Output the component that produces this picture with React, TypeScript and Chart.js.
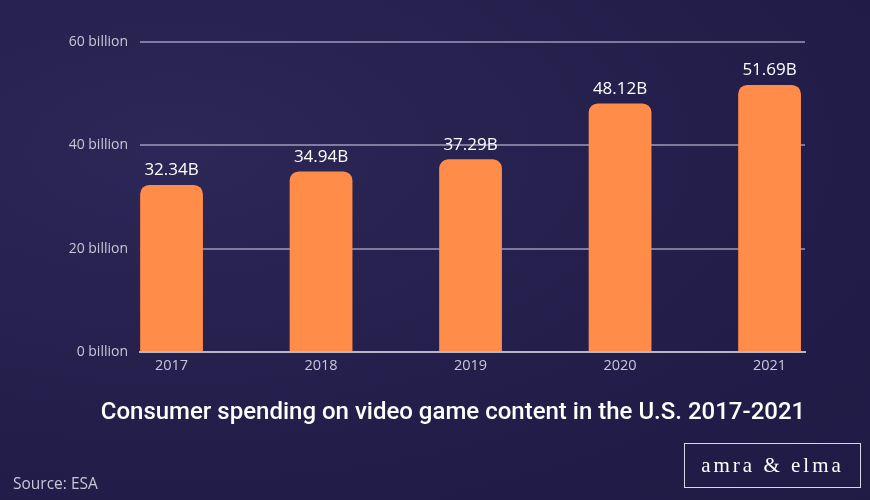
import React, { useEffect, useRef } from "react";
import { Chart, registerables } from "chart.js";

Chart.register(...registerables);

const years = [2017, 2018, 2019, 2020, 2021];
const spending = [32.34, 34.94, 37.29, 48.12, 51.69];
const valueLabels = ["32.34B", "34.94B", "37.29B", "48.12B", "51.69B"];
const yTicks = [0, 20, 40, 60];

const TEXT_GREY = "#c9c6d9";

const valueLabelPlugin = {
  id: "valueLabels",
  afterDatasetsDraw(chart: any) {
    const ctx = chart.ctx;
    const meta = chart.getDatasetMeta(0);
    ctx.save();
    ctx.font = "17px 'Open Sans'";
    ctx.fillStyle = "#ffffff";
    ctx.textAlign = "center";
    ctx.textBaseline = "bottom";
    meta.data.forEach((el: any, i: number) => {
      ctx.fillText(valueLabels[i], el.x, el.y - 6);
    });
    ctx.restore();
  },
};

export default function App() {
  const ref = useRef<HTMLCanvasElement>(null);
  useEffect(() => {
    if (!ref.current) return;
    const chart = new Chart(ref.current, {
      type: "bar",
      data: {
        datasets: [
          {
            data: years.map((y, i) => ({ x: y, y: spending[i] })),
            backgroundColor: "#ff8c48",
            borderRadius: 9,
            borderSkipped: "start",
            barPercentage: 0.42,
            categoryPercentage: 1,
          },
        ],
      },
      options: {
        animation: false,
        responsive: false,
        maintainAspectRatio: false,
        layout: { padding: { top: 42, right: 65, left: 0, bottom: 0 } },
        plugins: {
          legend: { display: false },
          tooltip: { enabled: false },
          title: { display: false },
        },
        scales: {
          x: {
            type: "linear",
            offset: false,
            min: years[0] - 0.211,
            max: years[years.length - 1] + 0.237,
            afterBuildTicks: (scale: any) => {
              scale.ticks = years.map((v) => ({ value: v }));
            },
            afterFit: (scale: any) => {
              scale.height = 148;
            },
            grid: { display: false, drawTicks: false },
            border: { display: true, color: "#b9b6cc", width: 2 },
            ticks: {
              color: TEXT_GREY,
              font: { family: "'Open Sans'", size: 14.5 },
              padding: 5,
              callback: (v: any) => String(v),
            },
          },
          y: {
            min: 0,
            max: 60,
            afterBuildTicks: (scale: any) => {
              scale.ticks = yTicks.map((v) => ({ value: v }));
            },
            afterFit: (scale: any) => {
              scale.width = 140;
            },
            grid: {
              color: "rgba(200,196,225,0.55)",
              lineWidth: 2,
              drawTicks: false,
            },
            border: { display: false },
            ticks: {
              color: TEXT_GREY,
              font: { family: "'Open Sans'", size: 14 },
              padding: 12,
              callback: (v: any) => `${v} billion`,
            },
          },
        },
      },
      plugins: [valueLabelPlugin],
    });
    return () => chart.destroy();
  }, []);

  return (
    <div
      style={{
        position: "fixed",
        left: 0,
        top: 0,
        width: 870,
        height: 500,
        overflow: "hidden",
        background:
          "radial-gradient(ellipse at 20% 30%, #2c2756 0%, #231e4a 55%, #201b45 100%)",
      }}
    >
      <canvas
        ref={ref}
        width={870}
        height={500}
        style={{ position: "absolute", left: 0, top: 0, width: 870, height: 500 }}
      />
      <div
        style={{
          position: "absolute",
          left: 0,
          width: 906,
          top: 395,
          textAlign: "center",
          color: "#ffffff",
          fontFamily: "Roboto, sans-serif",
          fontWeight: 500,
          fontSize: 24,
          lineHeight: "32px",
          whiteSpace: "nowrap",
        }}
      >
        Consumer spending on video game content in the U.S. 2017-2021
      </div>
      <div
        style={{
          position: "absolute",
          left: 13,
          top: 472,
          color: TEXT_GREY,
          fontFamily: "'Open Sans', sans-serif",
          fontSize: 15.5,
          lineHeight: "22px",
        }}
      >
        Source: ESA
      </div>
      <div
        style={{
          position: "absolute",
          left: 684,
          top: 443,
          width: 177,
          height: 45,
          border: "1px solid #d9d7e4",
          boxSizing: "border-box",
          color: "#ffffff",
          fontFamily: "'Liberation Serif', serif",
          fontSize: 21,
          letterSpacing: 3,
          display: "flex",
          alignItems: "center",
          justifyContent: "center",
        }}
      >
        amra &amp; elma
      </div>
    </div>
  );
}
